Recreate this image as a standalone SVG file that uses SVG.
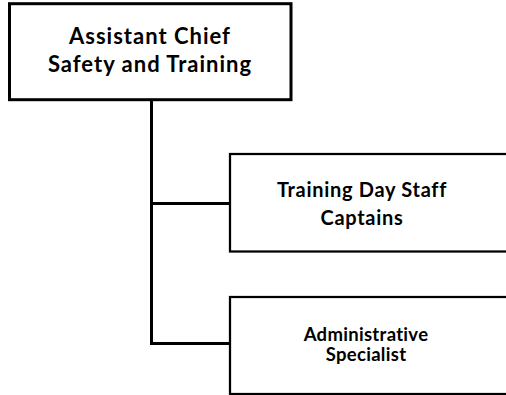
<svg xmlns="http://www.w3.org/2000/svg" width="506" height="395" viewBox="0 0 506 395">
<style>
.box{fill:#fff;stroke:#000}
.lbl{font-family:Lato,"Liberation Sans",sans-serif;font-weight:bold;fill:#000;text-anchor:middle}
.big{font-size:22px;letter-spacing:1px}
.mid{font-size:20px;letter-spacing:0.7px}
.small{font-size:18.5px;letter-spacing:0.3px}
.conn{fill:none;stroke:#000;stroke-width:3}
</style>
<rect width="506" height="395" fill="#fff"/>
<g id="connectors">
<path class="conn" d="M151.5 100 V343.5 H230"/>
<path class="conn" d="M151.5 203.5 H230"/>
</g>
<g id="node-assistant-chief">
<rect class="box" x="9.5" y="3.7" width="281.5" height="96" stroke-width="3"/>
<text class="lbl big" x="150" y="44">Assistant Chief</text>
<text class="lbl big" x="150" y="72">Safety and Training</text>
</g>
<g id="node-training-day-staff">
<rect class="box" x="230" y="154" width="290" height="97.5" stroke-width="2.25"/>
<text class="lbl mid" x="362" y="197">Training Day Staff</text>
<text class="lbl mid" x="362" y="225">Captains</text>
</g>
<g id="node-administrative-specialist">
<rect class="box" x="230" y="297" width="290" height="97" stroke-width="2.25"/>
<text class="lbl small" x="366" y="341">Administrative</text>
<text class="lbl small" x="366" y="361">Specialist</text>
</g>
</svg>
